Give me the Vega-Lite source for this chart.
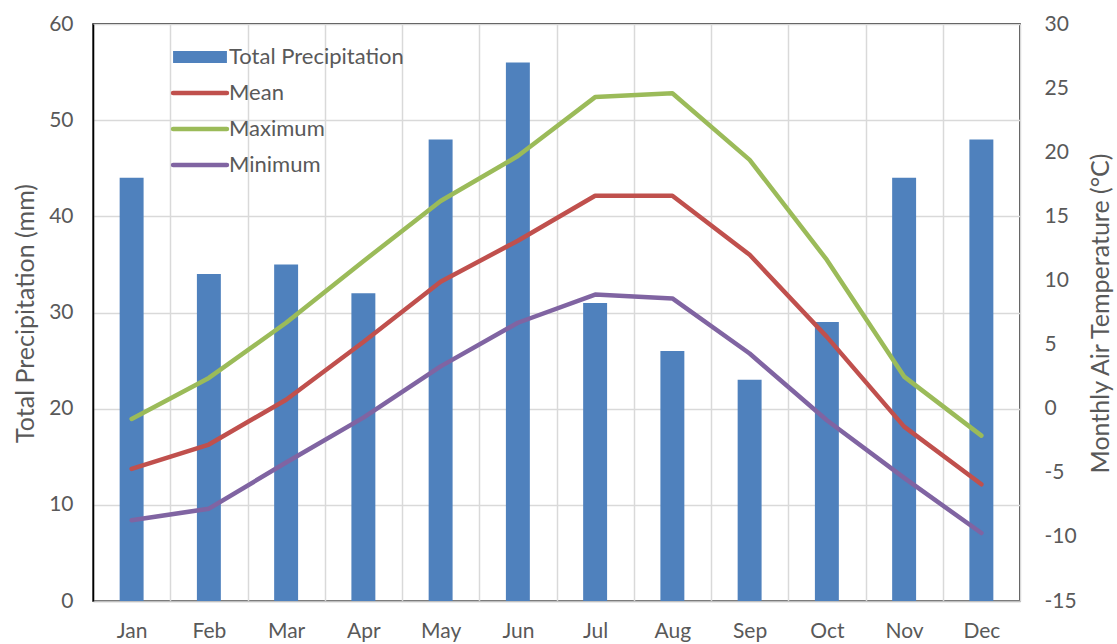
{
  "$schema": "https://vega.github.io/schema/vega-lite/v6.json",
  "autosize": "none",
  "width": 927,
  "height": 577,
  "padding": {"left": 93, "top": 24, "right": 97, "bottom": 43},
  "background": "white",
  "config": {
    "font": "Lato",
    "view": {"stroke": "#000000", "strokeWidth": 1.5},
    "axis": {"labelFont": "Lato", "titleFont": "Lato", "labelFontSize": 21, "titleFontSize": 25, "labelColor": "#595959", "titleColor": "#595959", "titleFontWeight": "normal", "ticks": false, "gridColor": "#d9d9d9", "gridWidth": 1.5, "labelExpr": "toString(datum.value)"},
    "legend": {"labelFont": "Lato", "labelFontSize": 22, "labelColor": "#595959", "labelLimit": 400, "title": null}
  },
  "data": {
    "values": [
      {"month": "Jan", "precip": 44, "Mean": -4.7, "Maximum": -0.8, "Minimum": -8.7},
      {"month": "Feb", "precip": 34, "Mean": -2.8, "Maximum": 2.4, "Minimum": -7.8},
      {"month": "Mar", "precip": 35, "Mean": 0.7, "Maximum": 6.7, "Minimum": -4.2},
      {"month": "Apr", "precip": 32, "Mean": 5.2, "Maximum": 11.5, "Minimum": -0.7},
      {"month": "May", "precip": 48, "Mean": 9.9, "Maximum": 16.2, "Minimum": 3.3},
      {"month": "Jun", "precip": 56, "Mean": 13.1, "Maximum": 19.7, "Minimum": 6.7},
      {"month": "Jul", "precip": 31, "Mean": 16.6, "Maximum": 24.3, "Minimum": 8.9},
      {"month": "Aug", "precip": 26, "Mean": 16.6, "Maximum": 24.6, "Minimum": 8.6},
      {"month": "Sep", "precip": 23, "Mean": 12.0, "Maximum": 19.4, "Minimum": 4.3},
      {"month": "Oct", "precip": 29, "Mean": 5.6, "Maximum": 11.6, "Minimum": -0.9},
      {"month": "Nov", "precip": 44, "Mean": -1.4, "Maximum": 2.5, "Minimum": -5.4},
      {"month": "Dec", "precip": 48, "Mean": -5.9, "Maximum": -2.1, "Minimum": -9.7}
    ]
  },
  "encoding": {
    "x": {
      "field": "month", "type": "nominal", "sort": null,
      "scale": {"paddingInner": 0, "paddingOuter": 0},
      "axis": {"title": null, "labelAngle": 0, "labelPadding": 19, "tickBand": "extent", "grid": true, "domainColor": "#bfbfbf", "domainWidth": 1.5, "labelExpr": "datum.label"}
    }
  },
  "layer": [
    {
      "mark": {"type": "bar", "width": {"band": 0.31}},
      "encoding": {
        "y": {
          "field": "precip", "type": "quantitative",
          "scale": {"domain": [0, 60], "nice": false},
          "axis": {"title": "Total Precipitation (mm)", "values": [0, 10, 20, 30, 40, 50, 60], "grid": true, "domainColor": "#000000", "domainWidth": 1.5, "labelPadding": 20, "titleX": -68, "titleY": 289, "titleAlign": "center", "titleBaseline": "middle", "titleAngle": -90}
        },
        "color": {
          "datum": "Total Precipitation", "type": "nominal",
          "scale": {"domain": ["Total Precipitation", "Mean", "Maximum", "Minimum"], "range": ["#4F81BD", "#C0504D", "#9BBB59", "#8064A2"]},
          "legend": {
            "title": null, "orient": "none", "legendX": 78, "legendY": 22,
            "symbolType": "stroke", "symbolSize": 2900, "symbolStrokeWidth": 4.5,
            "symbolOffset": 18, "rowPadding": 14, "labelOffset": 18, "labelLimit": 400,
            "encode": {
              "symbols": {
                "update": {
                  "stroke": {"scale": "color", "field": "value"},
                  "strokeWidth": {"signal": "datum.value === 'Total Precipitation' ? 12 : 4.5"},
                  "strokeCap": {"signal": "datum.value === 'Total Precipitation' ? 'butt' : 'round'"},
                  "strokeJoin": {"value": "round"}
                }
              }
            }
          }
        }
      }
    },
    {
      "transform": [{"fold": ["Mean", "Maximum", "Minimum"], "as": ["series", "temp"]}],
      "mark": {"type": "line", "strokeWidth": 4.5, "strokeCap": "round", "strokeJoin": "round"},
      "encoding": {
        "y": {
          "field": "temp", "type": "quantitative",
          "scale": {"domain": [-15, 30], "nice": false, "zero": false},
          "axis": {"orient": "right", "title": "Monthly Air Temperature (°C)", "values": [-15, -10, -5, 0, 5, 10, 15, 20, 25, 30], "grid": false, "domain": false, "labelAlign": "left", "labelPadding": 24, "titleX": 80, "titleY": 289, "titleAlign": "center", "titleBaseline": "middle", "titleAngle": -90}
        },
        "color": {
          "field": "series", "type": "nominal",
          "legend": {
            "title": null, "orient": "none", "legendX": 78, "legendY": 22,
            "symbolType": "stroke", "symbolSize": 2900, "symbolStrokeWidth": 4.5,
            "symbolOffset": 18, "rowPadding": 14, "labelOffset": 18, "labelLimit": 400
          }
        }
      }
    }
  ],
  "resolve": {"scale": {"y": "independent"}}
}
